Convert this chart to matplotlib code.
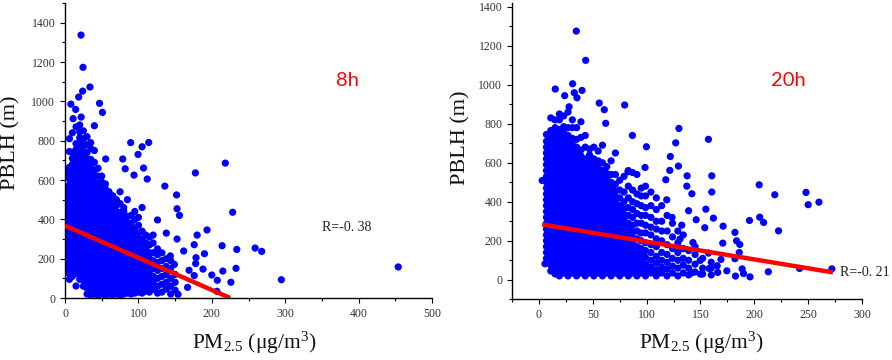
import numpy as np
import matplotlib.pyplot as plt
from matplotlib.ticker import MultipleLocator

plt.rcParams['font.family'] = ['Liberation Serif', 'DejaVu Serif']
plt.rcParams['mathtext.default'] = 'regular'

# ---------------- 8h panel data (PM2.5, PBLH) ----------------
# dense core, read column by column
pm_8h_cols = [2, 6, 10, 15, 20, 25, 30, 35, 40, 45, 50, 55, 60, 65, 70, 75,
              80, 85, 90, 95, 100, 105, 110, 115, 120, 126, 132, 138, 144, 150]
pblh_8h_cols = [
    [130, 160, 190, 220, 250, 280, 310, 340, 370, 400, 430, 460, 490, 520, 550, 620, 650],
    [95, 125, 155, 185, 215, 245, 275, 305, 335, 365, 395, 425, 455, 485, 515, 545, 575, 605, 635, 665, 745, 810],
    [110, 140, 170, 200, 230, 260, 290, 320, 350, 380, 410, 440, 470, 500, 530, 560, 590, 620, 650, 680, 710, 740, 840],
    [125, 155, 185, 215, 245, 275, 305, 335, 365, 395, 425, 455, 485, 515, 545, 575, 605, 635, 665, 695, 725, 755, 785, 870],
    [95, 125, 155, 185, 215, 245, 275, 305, 335, 365, 395, 425, 455, 485, 515, 545, 575, 605, 635, 665, 695, 725, 755, 785, 815, 845, 880],
    [60, 90, 120, 150, 180, 210, 240, 270, 300, 330, 360, 390, 420, 450, 480, 510, 540, 570, 600, 630, 660, 690, 720, 750, 780, 810, 850],
    [20, 50, 80, 110, 140, 170, 200, 230, 260, 290, 320, 350, 380, 410, 440, 470, 500, 530, 560, 590, 620, 650, 680, 710, 740, 780, 820],
    [15, 45, 75, 105, 135, 165, 195, 225, 255, 285, 315, 345, 375, 405, 435, 465, 495, 525, 555, 585, 615, 645, 675, 705, 760, 790],
    [20, 50, 80, 110, 140, 170, 200, 230, 260, 290, 320, 350, 380, 410, 440, 470, 500, 530, 560, 590, 620, 650, 690, 750],
    [15, 45, 75, 105, 135, 165, 195, 225, 255, 285, 315, 345, 375, 405, 435, 465, 495, 525, 555, 585, 620, 660],
    [20, 50, 80, 110, 140, 170, 200, 230, 260, 290, 320, 350, 380, 410, 440, 470, 500, 530, 560, 590, 620],
    [15, 45, 75, 105, 135, 165, 195, 225, 255, 285, 315, 345, 375, 405, 435, 465, 495, 525, 555, 580],
    [20, 50, 80, 110, 140, 170, 200, 230, 260, 290, 320, 350, 380, 410, 440, 470, 500, 540],
    [15, 45, 75, 105, 135, 165, 195, 225, 255, 285, 315, 345, 375, 405, 435, 465, 495, 520],
    [20, 50, 80, 110, 140, 170, 200, 230, 260, 290, 320, 350, 380, 410, 440, 470, 500],
    [15, 45, 75, 105, 135, 165, 195, 225, 255, 285, 315, 345, 375, 405, 435, 480, 540],
    [20, 50, 80, 110, 140, 170, 200, 230, 260, 290, 320, 350, 380, 410, 440, 460],
    [25, 55, 85, 115, 145, 175, 205, 235, 265, 295, 325, 355, 385, 415, 500],
    [20, 50, 80, 110, 140, 170, 200, 230, 260, 290, 320, 350, 380, 420],
    [25, 55, 85, 115, 145, 175, 205, 235, 265, 295, 325, 355, 400, 440],
    [30, 60, 90, 120, 150, 180, 210, 240, 270, 300, 330, 370, 410],
    [25, 55, 85, 115, 145, 175, 205, 235, 265, 300, 340, 460],
    [35, 65, 95, 125, 160, 190, 220, 250, 280, 320],
    [30, 60, 90, 125, 160, 200, 230, 270, 310],
    [45, 80, 110, 150, 190, 230, 280, 320],
    [25, 60, 100, 140, 180, 220, 250],
    [30, 70, 110, 150, 190, 230],
    [45, 80, 120, 160, 200],
    [20, 60, 100, 150, 190],
    [40, 80, 120],
]
# scattered points
pm_8h_out = [21.8, 24.5, 34, 24, 18.6, 47, 51, 8, 14.5, 11, 22, 40, 89.5, 105, 114,
             99.5, 55.4, 78.6, 82, 107, 94, 112, 218.4, 177.6, 136, 152, 152.6, 156,
             126, 228.4, 138, 193.5, 180, 152.6, 176, 214, 234, 259, 268, 161.7, 190,
             178.5, 178, 169, 188, 233, 215, 454, 294.7, 200, 207.5, 226, 207, 167,
             154, 15, 176, 149, 143.5]
pblh_8h_out = [1337, 1173, 1073, 1052, 1022, 990, 944, 986, 959, 912, 920, 876, 790, 769, 791,
               730, 707, 707, 657, 661, 625, 605, 686, 636, 569, 524, 454, 420,
               397, 436, 330, 346, 320, 300, 271, 266, 247, 254, 237, 239, 225,
               205, 175, 141, 147, 151, 137, 158, 93, 117, 90, 80, 34, 54,
               19, 61, 114, 171, 214]
fit_8h_x = [0, 225]
fit_8h_y = [368, 0]

# ---------------- 20h panel data ----------------
pm_20h_cols = [7, 11, 15, 19, 23, 27, 31, 35, 39, 43, 47, 51, 55, 59, 63, 67, 71, 75,
               79, 83, 87, 91, 95, 99, 104, 109, 114, 119, 124, 129, 134, 139, 145, 152, 160]
pblh_20h_cols = [
    [110, 140, 170, 200, 230, 260, 290, 320, 350, 380, 410, 440, 470, 500, 530, 560, 590, 620, 650, 680, 710, 745],
    [45, 75, 105, 135, 165, 195, 225, 255, 285, 315, 345, 375, 405, 435, 465, 495, 525, 555, 585, 615, 645, 675, 705, 735, 765, 830],
    [30, 60, 90, 120, 150, 180, 210, 240, 270, 300, 330, 360, 390, 420, 450, 480, 510, 540, 570, 600, 630, 660, 690, 720, 750, 780, 820],
    [20, 50, 80, 110, 140, 170, 200, 230, 260, 290, 320, 350, 380, 410, 440, 470, 500, 530, 560, 590, 620, 650, 680, 710, 740, 770, 820, 850],
    [35, 65, 95, 125, 155, 185, 215, 245, 275, 305, 335, 365, 395, 425, 455, 485, 515, 545, 575, 605, 635, 665, 695, 725, 755, 785, 840],
    [20, 50, 80, 110, 140, 170, 200, 230, 260, 290, 320, 350, 380, 410, 440, 470, 500, 530, 560, 590, 620, 650, 680, 710, 740, 780, 860],
    [35, 65, 95, 125, 155, 185, 215, 245, 275, 305, 335, 365, 395, 425, 455, 485, 515, 545, 575, 605, 635, 665, 695, 725, 780, 820],
    [20, 50, 80, 110, 140, 170, 200, 230, 260, 290, 320, 350, 380, 410, 440, 470, 500, 530, 560, 590, 620, 650, 680, 720, 780],
    [35, 65, 95, 125, 155, 185, 215, 245, 275, 305, 335, 365, 395, 425, 455, 485, 515, 545, 575, 605, 635, 665, 730, 810],
    [20, 50, 80, 110, 140, 170, 200, 230, 260, 290, 320, 350, 380, 410, 440, 470, 500, 530, 560, 590, 620, 680, 740],
    [35, 65, 95, 125, 155, 185, 215, 245, 275, 305, 335, 365, 395, 425, 455, 485, 515, 545, 575, 605, 640, 670],
    [20, 50, 80, 110, 140, 170, 200, 230, 260, 290, 320, 350, 380, 410, 440, 470, 500, 530, 560, 590, 620, 680],
    [35, 65, 95, 125, 155, 185, 215, 245, 275, 305, 335, 365, 395, 425, 455, 485, 515, 545, 575, 610, 660],
    [20, 50, 80, 110, 140, 170, 200, 230, 260, 290, 320, 350, 380, 410, 440, 470, 500, 530, 560, 600, 690],
    [35, 65, 95, 125, 155, 185, 215, 245, 275, 305, 335, 365, 395, 425, 455, 485, 515, 545, 580],
    [20, 50, 80, 110, 140, 170, 200, 230, 260, 290, 320, 350, 380, 410, 440, 470, 500, 540, 610],
    [35, 65, 95, 125, 155, 185, 215, 245, 275, 305, 335, 365, 395, 425, 455, 490, 540, 650],
    [20, 50, 80, 110, 140, 170, 200, 230, 260, 290, 320, 350, 380, 420, 460, 510],
    [35, 65, 95, 125, 155, 185, 215, 245, 275, 305, 335, 365, 400, 450, 530],
    [20, 50, 80, 110, 140, 170, 200, 230, 260, 290, 330, 370, 420, 480, 560],
    [35, 65, 95, 125, 155, 185, 215, 245, 280, 320, 360, 400, 460, 550],
    [20, 50, 80, 110, 140, 170, 210, 250, 290, 340, 390, 440, 540],
    [35, 65, 95, 125, 160, 200, 240, 290, 330, 380, 430, 470],
    [20, 50, 80, 115, 150, 190, 240, 280, 330, 370, 430, 480],
    [35, 65, 100, 140, 180, 230, 270, 320, 380, 450],
    [20, 50, 85, 120, 170, 210, 260, 300, 360, 420],
    [35, 65, 100, 140, 200, 250, 300, 380],
    [20, 55, 90, 130, 180, 250, 330],
    [35, 70, 110, 160, 220, 290],
    [20, 60, 100, 140, 190, 250],
    [35, 75, 110, 160, 230],
    [25, 60, 100, 150],
    [40, 80, 130, 170],
    [30, 60, 110],
    [25, 60, 90],
]
pm_20h_out = [34.7, 43.4, 31.3, 15.2, 40, 32.8, 23.9, 35.3, 56, 79.6, 60.7, 28, 62, 86.8,
              130, 157.4, 99.8, 127, 122, 129.5, 121.5, 117.8, 98.5, 82.7, 137.6, 160.5,
              137.3, 142, 160.5, 118.7, 139, 155, 204.5, 219, 248, 250, 260, 205, 208.6,
              195.5, 222.5, 182, 171, 154, 162, 146, 132.6, 123.6, 186.5, 183.5, 170.7,
              143, 131, 186, 182, 169, 157.4, 149.7, 165.5, 174.5, 166, 188.7, 190, 196,
              182.5, 213, 242, 272, 158, 150, 142, 3, 5.6]
pblh_20h_out = [1275, 1125, 1005, 978, 971, 959, 944, 933, 906, 896, 872, 887, 802, 740,
                776, 720, 682, 702, 632, 583, 561, 513, 576, 554, 533, 533,
                480, 441, 450, 410, 354, 362, 487, 436, 448, 385, 398, 321, 294,
                304, 251, 243, 275, 267, 316, 308, 280, 320, 181, 200, 188,
                191, 209, 140, 108, 104, 137, 99, 72, 46, 38, 56, 32, 15,
                19, 41, 58, 56, 58, 29, 36, 509, 82]
fit_20h_x = [3, 273]
fit_20h_y = [284, 38]


def expand(cols_x, cols_y, out_x, out_y):
    xs, ys = [], []
    for x, col in zip(cols_x, cols_y):
        xs += [x] * len(col)
        ys += col
    return np.array(xs + out_x), np.array(ys + out_y)


def draw_panel(ax, x, y, fit_x, fit_y, xlim, ylim, xstep, tag, tag_xy, r_text, r_xy, r_ha,
               ylab_xy, xlab_xy):
    ax.scatter(x, y, s=27, c='#0000ff', edgecolors='none', zorder=2)
    ax.plot(fit_x, fit_y, color='#ff0000', lw=3.2, solid_capstyle='butt', zorder=3)

    ax.set_xlim(*xlim)
    ax.set_ylim(*ylim)
    ax.xaxis.set_major_locator(MultipleLocator(xstep))
    ax.xaxis.set_minor_locator(MultipleLocator(xstep / 2))
    ax.yaxis.set_major_locator(MultipleLocator(200))
    ax.yaxis.set_minor_locator(MultipleLocator(100))
    ax.set_xticks([t for t in ax.get_xticks() if t >= 0 and t <= xlim[1]])
    ax.set_yticks([t for t in ax.get_yticks() if t >= 0 and t <= 1400])

    for s in ['top', 'right']:
        ax.spines[s].set_visible(False)
    for s in ['left', 'bottom']:
        ax.spines[s].set_linewidth(1.0)
    ax.tick_params(which='major', direction='out', length=3.5, width=0.8,
                   labelsize=8.5, labelcolor='#333333', pad=3.5)
    ax.tick_params(which='minor', direction='out', length=2, width=0.8)

    ax.set_ylabel('PBLH (m)', fontsize=16, color='#111111')
    ax.yaxis.set_label_coords(*ylab_xy)
    ax.set_xlabel('PM$_{2.5}$ (μg/m$^{3}$)', fontsize=15.5, color='#111111')
    ax.xaxis.set_label_coords(*xlab_xy)

    ax.text(tag_xy[0], tag_xy[1], tag, color='#ff0000', fontsize=14.5,
            family=['Lato', 'DejaVu Sans'], ha='center', va='center')
    ax.text(r_xy[0], r_xy[1], r_text, color='#222222', fontsize=10,
            ha=r_ha, va='center')


fig = plt.figure(figsize=(8.92, 3.6), dpi=100)

ax1 = fig.add_axes([0.0729, 0.1722, 0.4114, 0.8194])
x8, y8 = expand(pm_8h_cols, pblh_8h_cols, pm_8h_out, pblh_8h_out)
draw_panel(ax1, x8, y8, fit_8h_x, fit_8h_y, (0, 500), (0, 1500), 100,
           '8h', (385, 1107), 'R=-0. 38', (384, 360), 'center',
           (-0.122, 0.525), (0.515, -0.108))

ax2 = fig.add_axes([0.574, 0.1686, 0.3924, 0.8236])
x20, y20 = expand(pm_20h_cols, pblh_20h_cols, pm_20h_out, pblh_20h_out)
draw_panel(ax2, x20, y20, fit_20h_x, fit_20h_y, (-25, 300), (-100, 1420), 50,
           '20h', (232, 1024), 'R=-0. 21', (280, 36), 'left',
           (-0.12, 0.546), (0.54, -0.103))

fig.savefig('out.png', dpi=100)
